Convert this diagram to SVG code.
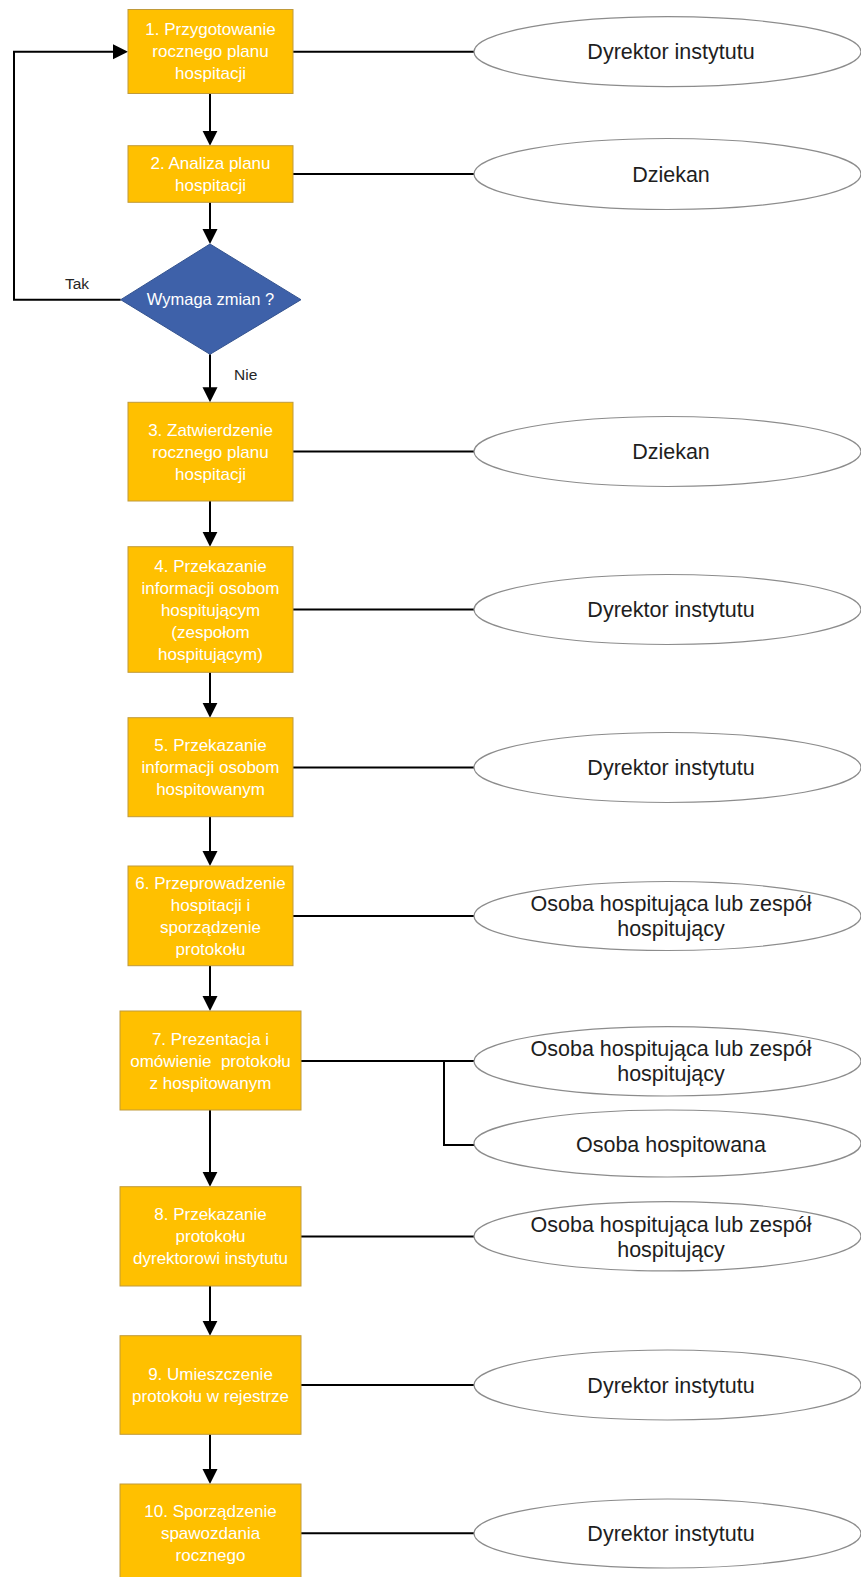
<svg xmlns="http://www.w3.org/2000/svg" width="861" height="1577" viewBox="0 0 861 1577">
<defs>
<style>
.box{fill:#FFC000;stroke:#C09A3A;stroke-width:1}
.dia{fill:#3E61A9;stroke:#34538F;stroke-width:1}
.ell{fill:#FFFFFF;stroke:#8C8C8C;stroke-width:1.2}
.bt{font-family:"Liberation Sans",Arial,sans-serif;font-size:17px;fill:#FFFFFF;text-anchor:middle}
.dt{font-family:"Liberation Sans",Arial,sans-serif;font-size:16.5px;fill:#FFFFFF;text-anchor:middle}
.et{font-family:"Liberation Sans",Arial,sans-serif;font-size:21.5px;fill:#1E1E1E;text-anchor:middle}
.lt{font-family:"Liberation Sans",Arial,sans-serif;font-size:15.5px;fill:#262626}
.ln{fill:none;stroke:#000000;stroke-width:2}
.ar{fill:none;stroke:#000000;stroke-width:2;marker-end:url(#ah)}
</style>
<marker id="ah" markerUnits="userSpaceOnUse" markerWidth="16" markerHeight="16" refX="7" refY="7.5" orient="auto" viewBox="0 0 16 16">
<path d="M0,0 L15,7.5 L0,15 Z" fill="#000000"/>
</marker>
</defs>
<rect width="861" height="1577" fill="#FFFFFF"/>

<g id="connectors">
<line class="ar" x1="210" y1="93.3" x2="210" y2="137.7"/>
<line class="ar" x1="210" y1="202.3" x2="210" y2="236"/>
<line class="ar" x1="210" y1="354.3" x2="210" y2="394.3"/>
<line class="ar" x1="210" y1="501" x2="210" y2="538.7"/>
<line class="ar" x1="210" y1="672.3" x2="210" y2="709.7"/>
<line class="ar" x1="210" y1="816.7" x2="210" y2="858"/>
<line class="ar" x1="210" y1="965.7" x2="210" y2="1003"/>
<line class="ar" x1="210" y1="1110" x2="210" y2="1178.7"/>
<line class="ar" x1="210" y1="1286" x2="210" y2="1327.7"/>
<line class="ar" x1="210" y1="1434.3" x2="210" y2="1476"/>
<polyline class="ar" points="120.7,299.7 14,299.7 14,51.7 120,51.7"/>
<line class="ln" x1="293" y1="51.7" x2="474" y2="51.7"/>
<line class="ln" x1="293" y1="174" x2="474" y2="174"/>
<line class="ln" x1="293" y1="451.5" x2="474" y2="451.5"/>
<line class="ln" x1="293" y1="609.5" x2="474" y2="609.5"/>
<line class="ln" x1="293" y1="767.5" x2="474" y2="767.5"/>
<line class="ln" x1="293" y1="916" x2="474" y2="916"/>
<line class="ln" x1="301" y1="1061" x2="474" y2="1061"/>
<polyline class="ln" points="444,1061 444,1145 474,1145"/>
<line class="ln" x1="301" y1="1236.5" x2="474" y2="1236.5"/>
<line class="ln" x1="301" y1="1385" x2="474" y2="1385"/>
<line class="ln" x1="301" y1="1533.3" x2="474" y2="1533.3"/>
<text class="lt" x="65" y="289">Tak</text>
<text class="lt" x="234" y="380">Nie</text>
</g>

<g id="n1">
<rect class="box" x="128" y="9.5" width="165" height="84"/>
<text class="bt" x="210.5" y="35">1. Przygotowanie</text>
<text class="bt" x="210.5" y="57">rocznego planu</text>
<text class="bt" x="210.5" y="79">hospitacji</text>
</g>
<g id="n2">
<rect class="box" x="128" y="145.7" width="165" height="56.6"/>
<text class="bt" x="210.5" y="169">2. Analiza planu</text>
<text class="bt" x="210.5" y="191">hospitacji</text>
</g>
<g id="d1">
<polygon class="dia" points="210,244 301,299.7 210,354.3 120.7,299.7"/>
<text class="dt" x="210.5" y="305">Wymaga zmian ?</text>
</g>
<g id="n3">
<rect class="box" x="128" y="402.3" width="165" height="98.7"/>
<text class="bt" x="210.5" y="435.7">3. Zatwierdzenie</text>
<text class="bt" x="210.5" y="457.7">rocznego planu</text>
<text class="bt" x="210.5" y="479.7">hospitacji</text>
</g>
<g id="n4">
<rect class="box" x="128" y="546.7" width="165" height="125.6"/>
<text class="bt" x="210.5" y="571.5">4. Przekazanie</text>
<text class="bt" x="210.5" y="593.5">informacji osobom</text>
<text class="bt" x="210.5" y="615.5">hospitującym</text>
<text class="bt" x="210.5" y="637.5">(zespołom</text>
<text class="bt" x="210.5" y="659.5">hospitującym)</text>
</g>
<g id="n5">
<rect class="box" x="128" y="717.7" width="165" height="99"/>
<text class="bt" x="210.5" y="751.2">5. Przekazanie</text>
<text class="bt" x="210.5" y="773.2">informacji osobom</text>
<text class="bt" x="210.5" y="795.2">hospitowanym</text>
</g>
<g id="n6">
<rect class="box" x="128" y="866" width="165" height="99.7"/>
<text class="bt" x="210.5" y="889">6. Przeprowadzenie</text>
<text class="bt" x="210.5" y="911">hospitacji i</text>
<text class="bt" x="210.5" y="933">sporządzenie</text>
<text class="bt" x="210.5" y="955">protokołu</text>
</g>
<g id="n7">
<rect class="box" x="120" y="1011" width="181" height="99"/>
<text class="bt" x="210.5" y="1044.5">7. Prezentacja i</text>
<text class="bt" x="210.5" y="1066.5" xml:space="preserve">omówienie  protokołu</text>
<text class="bt" x="210.5" y="1088.5">z hospitowanym</text>
</g>
<g id="n8">
<rect class="box" x="120" y="1186.7" width="181" height="99.3"/>
<text class="bt" x="210.5" y="1220.3">8. Przekazanie</text>
<text class="bt" x="210.5" y="1242.3">protokołu</text>
<text class="bt" x="210.5" y="1264.3">dyrektorowi instytutu</text>
</g>
<g id="n9">
<rect class="box" x="120" y="1335.7" width="181" height="98.6"/>
<text class="bt" x="210.5" y="1380">9. Umieszczenie</text>
<text class="bt" x="210.5" y="1402">protokołu w rejestrze</text>
</g>
<g id="n10">
<rect class="box" x="120" y="1484" width="181" height="100"/>
<text class="bt" x="210.5" y="1517">10. Sporządzenie</text>
<text class="bt" x="210.5" y="1539">spawozdania</text>
<text class="bt" x="210.5" y="1561">rocznego</text>
</g>

<g id="e1">
<ellipse class="ell" cx="667.5" cy="51.7" rx="193.5" ry="35"/>
<text class="et" x="671" y="59.2">Dyrektor instytutu</text>
</g>
<g id="e2">
<ellipse class="ell" cx="667.5" cy="174" rx="193.5" ry="35.5"/>
<text class="et" x="671" y="181.5">Dziekan</text>
</g>
<g id="e3">
<ellipse class="ell" cx="667.5" cy="451.5" rx="193.5" ry="35"/>
<text class="et" x="671" y="459">Dziekan</text>
</g>
<g id="e4">
<ellipse class="ell" cx="667.5" cy="609.5" rx="193.5" ry="35"/>
<text class="et" x="671" y="617">Dyrektor instytutu</text>
</g>
<g id="e5">
<ellipse class="ell" cx="667.5" cy="767.5" rx="193.5" ry="35"/>
<text class="et" x="671" y="775">Dyrektor instytutu</text>
</g>
<g id="e6">
<ellipse class="ell" cx="667.5" cy="916" rx="193.5" ry="34.5"/>
<text class="et" x="671" y="911">Osoba hospitująca lub zespół</text>
<text class="et" x="671" y="936">hospitujący</text>
</g>
<g id="e7a">
<ellipse class="ell" cx="667.5" cy="1061.3" rx="193.5" ry="34.7"/>
<text class="et" x="671" y="1056.3">Osoba hospitująca lub zespół</text>
<text class="et" x="671" y="1081.3">hospitujący</text>
</g>
<g id="e7b">
<ellipse class="ell" cx="667.5" cy="1143.5" rx="193.5" ry="33.5"/>
<text class="et" x="671" y="1152">Osoba hospitowana</text>
</g>
<g id="e8">
<ellipse class="ell" cx="667.5" cy="1236.3" rx="193.5" ry="34.6"/>
<text class="et" x="671" y="1231.5">Osoba hospitująca lub zespół</text>
<text class="et" x="671" y="1256.5">hospitujący</text>
</g>
<g id="e9">
<ellipse class="ell" cx="667.5" cy="1385" rx="193.5" ry="35"/>
<text class="et" x="671" y="1392.5">Dyrektor instytutu</text>
</g>
<g id="e10">
<ellipse class="ell" cx="667.5" cy="1533.5" rx="193.5" ry="34.5"/>
<text class="et" x="671" y="1541">Dyrektor instytutu</text>
</g>
</svg>
